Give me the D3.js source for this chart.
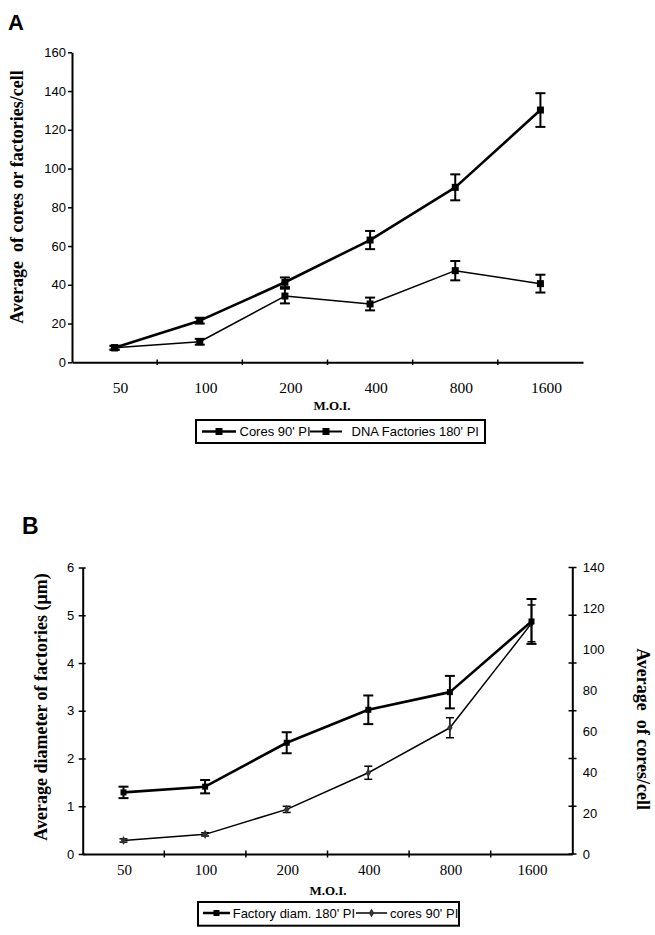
<!DOCTYPE html>
<html><head><meta charset="utf-8">
<script src="https://cdn.jsdelivr.net/npm/d3@7"></script>
<style>body{margin:0;background:#fff}</style>
</head><body>
<svg id="chart" width="655" height="935" xmlns="http://www.w3.org/2000/svg"></svg>
<script>
// ---------- data ----------
const categories = ["50", "100", "200", "400", "800", "1600"];

// Panel A
const seriesA = ["Cores 90' PI", "DNA Factories 180' PI"];
const coresA = [7.5, 21.5, 41.3, 63.1, 90.3, 130.2];
const coresAErr = [1.0, 1.5, 2.5, 4.7, 6.7, 8.7];
const factoriesA = [7.5, 10.6, 34.2, 30.1, 47.3, 40.6];
const factoriesAErr = [1.0, 1.5, 3.8, 3.3, 5.0, 4.6];
const yTicksA = [0, 20, 40, 60, 80, 100, 120, 140, 160];

// Panel B
const seriesB = ["Factory diam. 180' PI", "cores 90' PI"];
const diamB = [1.29, 1.41, 2.33, 3.02, 3.39, 4.87];
const diamBErr = [0.12, 0.14, 0.22, 0.30, 0.34, 0.47];
const coresB = [6.6, 9.6, 21.8, 39.7, 61.7, 112.7];
const coresBErr = [0.8, 0.8, 1.5, 3.2, 4.9, 9.0];
const yTicksBLeft = [0, 1, 2, 3, 4, 5, 6];
const yTicksBRight = [0, 20, 40, 60, 80, 100, 120, 140];

// ---------- drawing ----------
const svg = d3.select("#chart");
const SANS = "Liberation Sans, Arial, Helvetica, sans-serif";
const SERIF = "Liberation Serif, Times New Roman, Times, serif";

function drawSeries(g, x, y, vals, errs, opts) {
  const cx = i => x(categories[i]) + x.bandwidth() / 2;
  const line = d3.line().x((d, i) => cx(i)).y(d => y(d));
  g.append("path").datum(vals).attr("d", line)
    .attr("fill", "none").attr("stroke", "#000").attr("stroke-width", opts.lw)
    .attr("stroke-linejoin", "round");
  const eb = g.append("g").attr("stroke", "#000").attr("stroke-width", opts.ew);
  vals.forEach((v, i) => {
    const e = errs[i];
    const X = cx(i);
    eb.append("line").attr("x1", X).attr("x2", X).attr("y1", y(v + e)).attr("y2", y(v - e));
    eb.append("line").attr("x1", X - opts.cap).attr("x2", X + opts.cap).attr("y1", y(v + e)).attr("y2", y(v + e));
    eb.append("line").attr("x1", X - opts.cap).attr("x2", X + opts.cap).attr("y1", y(v - e)).attr("y2", y(v - e));
  });
  g.selectAll(null).data(vals).enter().append("path")
    .attr("d", d3.symbol(opts.symbol, opts.size)())
    .attr("transform", (d, i) => `translate(${cx(i)},${y(d)})`)
    .attr("fill", opts.color);
}

// ===== Panel A =====
const xA = d3.scaleBand().domain(categories).range([72, 583]).padding(0);
const yA = d3.scaleLinear().domain([0, 160]).range([362.3, 52.3]);

svg.append("text").attr("x", 8).attr("y", 30).text("A")
  .attr("font-family", SANS).attr("font-weight", "bold").attr("font-size", 22);

const gyA = svg.append("g").attr("transform", "translate(72,0)")
  .call(d3.axisLeft(yA).tickValues(yTicksA).tickSize(4).tickSizeOuter(0).tickPadding(2));
gyA.select(".domain").attr("stroke-width", 2);
gyA.selectAll(".tick line").attr("stroke-width", 1.5);
gyA.selectAll("text").attr("font-family", SANS).attr("font-size", 13).attr("fill", "#000");

const gxA = svg.append("g").attr("transform", "translate(0,362.3)")
  .call(d3.axisBottom(xA).tickSize(0).tickSizeOuter(0));
gxA.select(".domain").attr("stroke-width", 2);
gxA.selectAll("text").attr("font-family", SERIF).attr("font-size", 15.5).attr("fill", "#000")
  .attr("y", 31).attr("dy", 0).attr("dx", 6);
// boundary ticks
svg.append("g").selectAll("line").data(categories.slice(1)).enter().append("line")
  .attr("x1", d => xA(d)).attr("x2", d => xA(d)).attr("y1", 359.5).attr("y2", 365)
  .attr("stroke", "#000").attr("stroke-width", 1.5);

svg.append("text").attr("x", 332).attr("y", 410).attr("text-anchor", "middle")
  .attr("font-family", SERIF).attr("font-weight", "bold").attr("font-size", 13).text("M.O.I.");

svg.append("text").attr("transform", "translate(23,197) rotate(-90)").attr("text-anchor", "middle")
  .attr("font-family", SERIF).attr("font-weight", "bold").attr("font-size", 18)
  .style("white-space", "pre")
  .text("Average  of cores or factories/cell");

const gA = svg.append("g");
drawSeries(gA, xA, yA, factoriesA, factoriesAErr, {lw: 1.5, ew: 2, cap: 5, symbol: d3.symbolSquare, size: 49, color: "#000"});
drawSeries(gA, xA, yA, coresA, coresAErr, {lw: 2.6, ew: 2, cap: 5, symbol: d3.symbolSquare, size: 49, color: "#000"});

// Legend A
const legA = svg.append("g");
legA.append("rect").attr("x", 196).attr("y", 420).attr("width", 289).attr("height", 23)
  .attr("fill", "#fff").attr("stroke", "#000").attr("stroke-width", 2);
const legAItems = [{lx1: 202, lx2: 236, tx: 239.5}, {lx1: 310, lx2: 342, tx: 351.5}];
seriesA.forEach((name, i) => {
  const it = legAItems[i];
  legA.append("line").attr("x1", it.lx1).attr("x2", it.lx2).attr("y1", 431.5).attr("y2", 431.5)
    .attr("stroke", "#000").attr("stroke-width", i === 0 ? 2.5 : 2);
  legA.append("path").attr("d", d3.symbol(d3.symbolSquare, 49)())
    .attr("transform", `translate(${(it.lx1 + it.lx2) / 2},431.5)`).attr("fill", "#000");
  legA.append("text").attr("x", it.tx).attr("y", 436).text(name)
    .attr("font-family", SANS).attr("font-size", 13);
});

// ===== Panel B =====
const xB = d3.scaleBand().domain(categories).range([82.7, 572.3]).padding(0);
const yBL = d3.scaleLinear().domain([0, 6]).range([854, 567.5]);
const yBR = d3.scaleLinear().domain([0, 140]).range([854, 567.5]);

svg.append("text").attr("x", 22).attr("y", 533.5).text("B")
  .attr("font-family", SANS).attr("font-weight", "bold").attr("font-size", 23);

const gyBL = svg.append("g").attr("transform", "translate(82.7,0)")
  .call(d3.axisLeft(yBL).tickValues(yTicksBLeft).tickFormat(d3.format("d"))
    .tickSize(4).tickSizeOuter(0).tickPadding(4.5));
gyBL.select(".domain").attr("stroke-width", 2);
gyBL.selectAll(".tick line").attr("stroke-width", 1.5).attr("x2", -4).attr("x1", 3);
gyBL.selectAll("text").attr("font-family", SANS).attr("font-size", 13).attr("fill", "#000");

// right axis: labels every 20, ticks at primary-axis positions
const gyBR = svg.append("g").attr("transform", "translate(572.3,0)")
  .call(d3.axisRight(yBR).tickValues(yTicksBRight).tickFormat(d3.format("d"))
    .tickSize(0).tickSizeOuter(0).tickPadding(10.5));
gyBR.select(".domain").attr("stroke-width", 2);
gyBR.selectAll("text").attr("font-family", SANS).attr("font-size", 13).attr("fill", "#000");
svg.append("g").selectAll("line").data(yTicksBLeft).enter().append("line")
  .attr("x1", 568.5).attr("x2", 576.5).attr("y1", d => yBL(d)).attr("y2", d => yBL(d))
  .attr("stroke", "#000").attr("stroke-width", 1.5);

const gxB = svg.append("g").attr("transform", "translate(0,854)")
  .call(d3.axisBottom(xB).tickSize(0).tickSizeOuter(0));
gxB.select(".domain").attr("stroke-width", 2);
gxB.selectAll("text").attr("font-family", SERIF).attr("font-size", 15).attr("fill", "#000")
  .attr("y", 20.5).attr("dy", 0).attr("dx", 1);
svg.append("g").selectAll("line").data(categories.slice(1)).enter().append("line")
  .attr("x1", d => xB(d)).attr("x2", d => xB(d)).attr("y1", 850.5).attr("y2", 857.5)
  .attr("stroke", "#000").attr("stroke-width", 1.5);

svg.append("text").attr("x", 328).attr("y", 895).attr("text-anchor", "middle")
  .attr("font-family", SERIF).attr("font-weight", "bold").attr("font-size", 13).text("M.O.I.");

svg.append("text").attr("transform", "translate(47,707) rotate(-90)").attr("text-anchor", "middle")
  .attr("font-family", SERIF).attr("font-weight", "bold").attr("font-size", 18)
  .text("Average diameter of factories (\u03bcm)");

svg.append("text").attr("transform", "translate(637,729) rotate(90)").attr("text-anchor", "middle")
  .attr("font-family", SERIF).attr("font-weight", "bold").attr("font-size", 18)
  .style("white-space", "pre")
  .text("Average  of cores/cell");

const gB = svg.append("g");
drawSeries(gB, xB, yBR, coresB, coresBErr, {lw: 1.5, ew: 1.5, cap: 4, symbol: d3.symbolDiamond, size: 24, color: "#333"});
drawSeries(gB, xB, yBL, diamB, diamBErr, {lw: 2.6, ew: 2, cap: 5, symbol: d3.symbolSquare, size: 36, color: "#000"});

// Legend B
const legB = svg.append("g");
svg.append("defs").append("clipPath").attr("id", "clipB")
  .append("rect").attr("x", 198).attr("y", 902).attr("width", 261).attr("height", 24);
legB.append("rect").attr("x", 198).attr("y", 902).attr("width", 261).attr("height", 23.7)
  .attr("fill", "#fff");
const legBInner = legB.append("g").attr("clip-path", "url(#clipB)");
const legBItems = [{lx1: 203, lx2: 230, tx: 232.7, sym: d3.symbolSquare, size: 36, color: "#000", lw: 2.5},
                   {lx1: 356, lx2: 387, tx: 390, sym: d3.symbolDiamond, size: 24, color: "#333", lw: 1.5}];
seriesB.forEach((name, i) => {
  const it = legBItems[i];
  legBInner.append("line").attr("x1", it.lx1).attr("x2", it.lx2).attr("y1", 913).attr("y2", 913)
    .attr("stroke", "#000").attr("stroke-width", it.lw);
  legBInner.append("path").attr("d", d3.symbol(it.sym, it.size)())
    .attr("transform", `translate(${(it.lx1 + it.lx2) / 2},913)`).attr("fill", it.color);
  legBInner.append("text").attr("x", it.tx).attr("y", 917.5).text(name)
    .attr("font-family", SANS).attr("font-size", 13);
});
legB.append("rect").attr("x", 198).attr("y", 902).attr("width", 261).attr("height", 23.7)
  .attr("fill", "none").attr("stroke", "#000").attr("stroke-width", 2);
</script>
</body></html>
